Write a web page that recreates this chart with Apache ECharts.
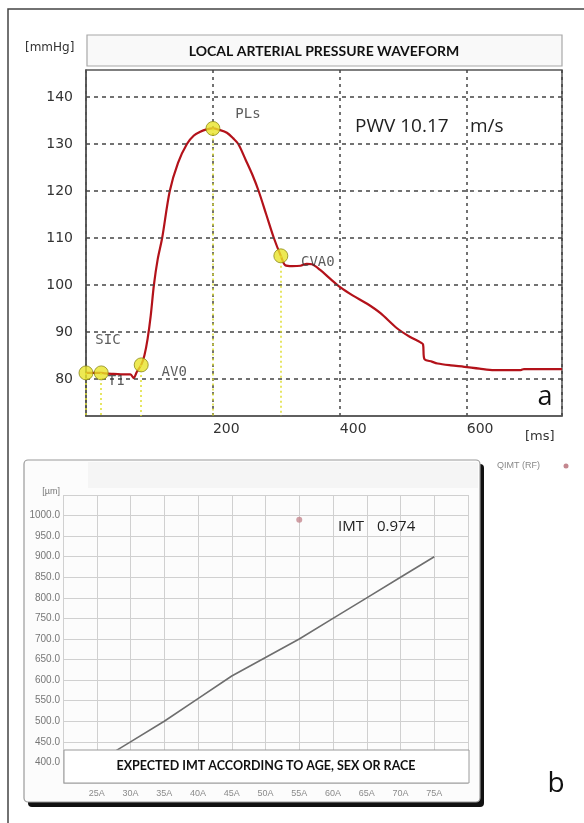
<!DOCTYPE html>
<html><head><meta charset="utf-8">
<script src="https://cdn.jsdelivr.net/npm/echarts@6/dist/echarts.min.js"></script>
<style>html,body{margin:0;padding:0;background:#fff}#c{width:584px;height:823px}</style>
</head><body><div id="c"></div><script>
// ---- Panel a: local arterial pressure waveform ----
const timeMs = [0, 24, 30, 40, 55, 70, 75, 80, 87, 92, 97, 102, 107, 113, 120, 132, 145, 159, 170, 180, 190, 200, 210, 222, 232, 240, 252, 262, 272, 284, 296, 307, 314, 325, 338, 348, 356, 369, 385, 401, 420, 443, 464, 490, 510, 527, 531, 533, 545, 554, 575, 596, 620, 643, 665, 685, 690, 720, 750];
const pressureMmHg = [81.3, 81.3, 81.2, 81.1, 81.0, 81.0, 80.2, 81.5, 83.0, 85.0, 88.5, 93.5, 100.0, 105.5, 110.0, 120.0, 126.0, 130.0, 131.8, 132.6, 133.1, 133.3, 133.0, 132.4, 131.2, 130.0, 126.5, 123.5, 120.0, 115.0, 110.0, 106.2, 104.2, 104.0, 104.1, 104.5, 104.4, 103.2, 101.3, 99.5, 97.8, 96.0, 94.0, 90.8, 89.0, 87.8, 87.4, 84.3, 83.7, 83.3, 82.9, 82.6, 82.2, 81.9, 81.9, 81.9, 82.1, 82.1, 82.1];
const markerNames = ['SIC', 'T1', 'AV0', 'PLs', 'CVA0'];
const markerTimeMs = [0, 24, 87, 200, 307];
const markerPressure = [81.3, 81.3, 83.0, 133.3, 106.2];
const pressureTicks = [80, 90, 100, 110, 120, 130, 140];
const timeTickStep = 200;
const pwvValue = '10.17';

// ---- Panel b: expected IMT by age ----
const ageYears = [25, 30, 35, 40, 45, 50, 55, 60, 65, 70, 75];
const ageTickLabels = ['25A', '30A', '35A', '40A', '45A', '50A', '55A', '60A', '65A', '70A', '75A'];
const expectedImtUm = [400, 450, 500, 555, 610, 655, 700, 750, 800, 850, 900];
const measuredAge = [55];
const measuredImtUm = [990];
const imtTicks = [400, 450, 500, 550, 600, 650, 700, 750, 800, 850, 900, 950, 1000];
const imtText = '0.974';

// ---- styles / layout ----
const labelOffsets = [[22, -33], [15, 8], [33, 7], [35, -14], [37, 7]];
const yMinA = 72.13, yMaxA = 145.74;
const monoFont = 'DejaVu Sans Mono';

const chart = echarts.init(document.getElementById('c'), null, {renderer: 'canvas'});

function txt(x, y, text, font, fill, align, valign, z) {
  return {type: 'text', x: x, y: y, z: z || 50,
    style: {text: text, font: font, fill: fill || '#222', align: align || 'left', verticalAlign: valign || 'middle'}};
}

const option = {
  animation: false,
  backgroundColor: '#fff',
  grid: [
    {left: 86, top: 70, width: 476, height: 346, show: true, borderColor: '#555', borderWidth: 1.5, backgroundColor: '#fff'},
    {left: 63, top: 495, width: 405, height: 288, show: true, borderColor: '#9a9a9a', borderWidth: 1, backgroundColor: '#fff'}
  ],
  xAxis: [
    {gridIndex: 0, type: 'value', min: 0, max: 750, interval: timeTickStep,
      axisLine: {show: true, onZero: false, lineStyle: {color: '#555', width: 1.5}},
      axisTick: {show: false},
      axisLabel: {show: true, showMinLabel: false, showMaxLabel: false, align: 'left', margin: 6,
        fontFamily: 'DejaVu Sans', fontSize: 14, color: '#333',
        formatter: v => (v % timeTickStep === 0 && v > 0) ? String(v) : ''},
      splitLine: {show: true, lineStyle: {color: '#444', type: [3, 4], width: 1.5}}},
    {gridIndex: 1, type: 'value', min: 20, max: 80, interval: 5,
      axisLine: {show: false}, axisTick: {show: false},
      axisLabel: {show: true, margin: 6, fontFamily: 'Liberation Sans', fontSize: 9, color: '#8a8a8a',
        formatter: v => { const i = ageYears.indexOf(v); return i >= 0 ? ageTickLabels[i] : ''; }},
      splitLine: {show: true, lineStyle: {color: '#d0d0d0', width: 1}}}
  ],
  yAxis: [
    {gridIndex: 0, type: 'value', min: yMinA, max: yMaxA,
      axisLine: {show: true, lineStyle: {color: '#555', width: 1.5}},
      axisTick: {show: false}, axisLabel: {show: false}, splitLine: {show: false}},
    {gridIndex: 1, type: 'value', min: 350, max: 1050, interval: 50,
      axisLine: {show: false}, axisTick: {show: false},
      axisLabel: {show: true, margin: 3, fontFamily: 'Liberation Sans', fontSize: 10, color: '#777',
        formatter: v => imtTicks.indexOf(v) >= 0 ? v.toFixed(1) : ''},
      splitLine: {show: true, lineStyle: {color: '#d0d0d0', width: 1}}}
  ],
  series: [
    // horizontal grid lines + y labels of panel a
    {type: 'line', xAxisIndex: 0, yAxisIndex: 0, data: [], z: 1, silent: true,
      markLine: {silent: true, symbol: 'none', animation: false,
        lineStyle: {color: '#444', type: [4, 4], width: 1.5},
        label: {show: true, position: 'start', distance: 13, fontFamily: 'DejaVu Sans', fontSize: 14, color: '#333', formatter: p => String(p.value)},
        emphasis: {disabled: true},
        data: pressureTicks.map(v => ({yAxis: v}))}},
    {name: 'pressure', type: 'line', xAxisIndex: 0, yAxisIndex: 0, z: 3,
      data: timeMs.map((t, i) => [t, pressureMmHg[i]]),
      showSymbol: false, smooth: 0.3,
      lineStyle: {color: '#b3121a', width: 2.2}},
    {name: 'markers', type: 'scatter', xAxisIndex: 0, yAxisIndex: 0, z: 5, clip: false,
      symbol: 'circle', symbolSize: 14,
      itemStyle: {color: '#e8e428', borderColor: '#8c8a18', borderWidth: 1},
      data: markerTimeMs.map((t, i) => ({name: markerNames[i], value: [t, markerPressure[i]],
        label: {show: true, position: 'inside', offset: labelOffsets[i], formatter: markerNames[i],
          fontFamily: monoFont, fontSize: 14, color: '#333'}})),
      markLine: {silent: true, symbol: 'none', animation: false,
        lineStyle: {color: '#dede30', type: [2, 3], width: 1.5},
        label: {show: false}, emphasis: {disabled: true},
        data: markerTimeMs.map((t, i) => [{coord: [t, markerPressure[i]]}, {coord: [t, yMinA]}])}},
    // panel b
    {name: 'expected', type: 'line', xAxisIndex: 1, yAxisIndex: 1, z: 3,
      data: ageYears.map((a, i) => [a, expectedImtUm[i]]),
      showSymbol: false, lineStyle: {color: '#6e6e6e', width: 1.6}},
    {name: 'QIMT (RF)', type: 'scatter', xAxisIndex: 1, yAxisIndex: 1, z: 4,
      symbolSize: 6, itemStyle: {color: '#c4878f'},
      data: measuredAge.map((a, i) => [a, measuredImtUm[i]])}
  ],
  graphic: [
    // outer frame
    {type: 'rect', z: 0, shape: {x: 8, y: 9, width: 620, height: 900}, style: {fill: 'none', stroke: '#444', lineWidth: 1.5}},
    // title box a
    {type: 'rect', z: 20, shape: {x: 87, y: 35, width: 475, height: 31}, style: {fill: '#f9f9f9', stroke: '#a8a8a8', lineWidth: 1.2}},
    txt(324, 51, 'LOCAL ARTERIAL PRESSURE WAVEFORM', 'bold 14px Lato', '#111', 'center'),
    txt(25, 48, '[mmHg]', '12px "DejaVu Sans"', '#333'),
    txt(355, 127, 'PWV ' + pwvValue, '19px "Open Sans"', '#222'),
    txt(470, 127, 'm/s', '19px "Open Sans"', '#222'),
    txt(545, 397, 'a', '27px "Open Sans"', '#111', 'center'),
    txt(525, 437, '[ms]', '13px "DejaVu Sans"', '#333'),
    // panel b shadow + frame
    {type: 'rect', z: 0, shape: {x: 28, y: 464, width: 456, height: 343, r: 4}, style: {fill: '#111'}},
    {type: 'rect', z: 0, shape: {x: 24, y: 460, width: 456, height: 342, r: 4}, style: {fill: '#fcfcfc', stroke: '#9a9a9a', lineWidth: 1.2}},
    {type: 'rect', z: 0, shape: {x: 88, y: 462, width: 390, height: 26}, style: {fill: '#f5f5f5'}},
    txt(60, 492, '[\u00b5m]', '9px "Liberation Sans"', '#777', 'right'),
    txt(338, 527, 'IMT', '15px "Open Sans"', '#222'),
    txt(377, 527, imtText, '15px "Open Sans"', '#222'),
    // caption box over bottom of panel b plot
    {type: 'rect', z: 20, shape: {x: 64, y: 750, width: 405, height: 33}, style: {fill: '#fff', stroke: '#9a9a9a', lineWidth: 1}},
    txt(266, 766, 'EXPECTED IMT ACCORDING TO AGE, SEX OR RACE', 'bold 12.5px Lato', '#111', 'center', 'middle', 21),
    // legend
    txt(497, 466, 'QIMT (RF)', '9px "Liberation Sans"', '#888'),
    {type: 'circle', z: 20, shape: {cx: 566, cy: 466, r: 2.5}, style: {fill: '#c4878f'}},
    txt(556, 784, 'b', '28px "Open Sans"', '#111', 'center')
  ]
};
chart.setOption(option);
</script></body></html>
